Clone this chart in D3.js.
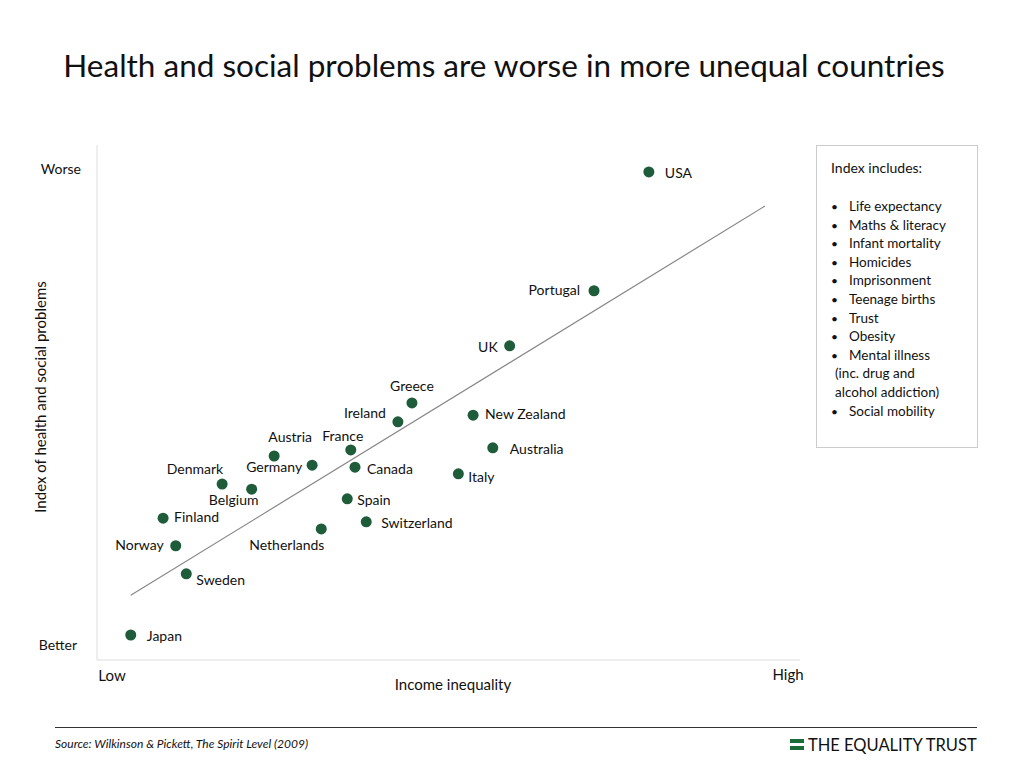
<!DOCTYPE html>
<html><head><meta charset="utf-8">
<script src="https://cdn.jsdelivr.net/npm/d3@7"></script>
<style>body{margin:0;background:#fff}text{font-family:Lato,"Open Sans",sans-serif;fill:#111}</style>
</head><body><svg id="viz" width="1024" height="768"></svg>
<script>
var countries = ['USA','Portugal','UK','Greece','Ireland','New Zealand','Australia','Italy','France','Canada','Austria','Germany','Denmark','Belgium','Spain','Switzerland','Netherlands','Finland','Norway','Sweden','Japan'];
var inequality = [78.5,70.7,58.7,44.8,42.8,53.5,56.3,51.4,36.1,36.7,25.2,30.6,17.8,22.0,35.6,38.3,31.9,9.4,11.2,12.7,4.8];
var problems = [95.7,72.4,61.6,50.4,46.7,48.0,41.6,36.5,41.2,37.8,40.0,38.2,34.5,33.5,31.6,27.1,25.7,27.8,22.4,16.9,4.9];
// label placement: [dx, dy, anchor]
var labelPos = [[16,6,'start'],[-14,4,'end'],[-12,6,'end'],[0,-12,'middle'],[-12,-4,'end'],[12,4,'start'],[17,6,'start'],[10,8,'start'],[-8,-9,'middle'],[12,7,'start'],[16,-14,'middle'],[-10,7,'end'],[1,-10,'end'],[-18,16,'middle'],[10,6,'start'],[15,6,'start'],[-72,21,'start'],[11,4,'start'],[-12,4,'end'],[10,11,'start'],[16,6,'start']];
var trendX = [4.8,95.0], trendY = [12.7,89.0];
var indexItems = ['Life expectancy','Maths & literacy','Infant mortality','Homicides','Imprisonment','Teenage births','Trust','Obesity','Mental illness','(inc. drug and','alcohol addiction)','Social mobility'];

var svg = d3.select('#viz');
var x = d3.scaleLinear().domain([0,100]).range([97,800]);
var y = d3.scaleLinear().domain([0,100]).range([660,150]);

svg.append('text').attr('x',504).attr('y',77).attr('text-anchor','middle').style('font-size','31.5px').text('Health and social problems are worse in more unequal countries');

// axes (plain lines)
svg.append('line').attr('x1',x(0)).attr('x2',x(0)).attr('y1',y(100)-5).attr('y2',y(0)).attr('stroke','#ddd');
svg.append('line').attr('x1',x(0)).attr('x2',x(100)).attr('y1',y(0)).attr('y2',y(0)).attr('stroke','#ddd');
svg.append('text').attr('x',81).attr('y',174).attr('text-anchor','end').style('font-size','14px').text('Worse');
svg.append('text').attr('x',77).attr('y',650).attr('text-anchor','end').style('font-size','14px').text('Better');
svg.append('text').attr('x',112).attr('y',681).attr('text-anchor','middle').style('font-size','15px').text('Low');
svg.append('text').attr('x',788).attr('y',680).attr('text-anchor','middle').style('font-size','15px').text('High');
svg.append('text').attr('x',453).attr('y',690).attr('text-anchor','middle').style('font-size','15px').text('Income inequality');
svg.append('text').attr('transform','translate(46,397) rotate(-90)').attr('text-anchor','middle').style('font-size','15px').text('Index of health and social problems');

svg.append('line').attr('x1',x(trendX[0])).attr('y1',y(trendY[0])).attr('x2',x(trendX[1])).attr('y2',y(trendY[1])).attr('stroke','#888').attr('stroke-width',1.2);

var g = svg.selectAll('g.pt').data(countries).enter().append('g').attr('class','pt')
  .attr('transform',function(d,i){return 'translate('+x(inequality[i])+','+y(problems[i])+')';});
g.append('circle').attr('r',5.5).attr('fill','#1e5c3a');
g.append('text').attr('x',function(d,i){return labelPos[i][0];}).attr('y',function(d,i){return labelPos[i][1];})
  .attr('text-anchor',function(d,i){return labelPos[i][2];}).style('font-size','14px').text(function(d){return d;});

// legend box
svg.append('rect').attr('x',816.5).attr('y',145.5).attr('width',161).attr('height',302).attr('fill','none').attr('stroke','#ccc');
svg.append('text').attr('x',831).attr('y',173).style('font-size','14px').text('Index includes:');
indexItems.forEach(function(t,i){
  var yy = 211 + i*18.6;
  var sub = t.charAt(0)==='(' || t.charAt(0)==='a';
  if(!sub) svg.append('text').attr('x',831).attr('y',yy).style('font-size','12px').text('•');
  svg.append('text').attr('x',sub?835:849).attr('y',yy).style('font-size','13.5px').text(t);
});

// footer
svg.append('line').attr('x1',55).attr('x2',977).attr('y1',727.5).attr('y2',727.5).attr('stroke','#333');
svg.append('text').attr('x',55).attr('y',748).style('font-size','12px').style('font-style','italic').text('Source: Wilkinson & Pickett, The Spirit Level (2009)');
svg.append('rect').attr('x',790).attr('y',739).attr('width',14).attr('height',4).attr('fill','#1e6b3a');
svg.append('rect').attr('x',790).attr('y',746).attr('width',14).attr('height',4).attr('fill','#1e6b3a');
svg.append('text').attr('x',808).attr('y',751).style('font-size','16.5px').text('THE EQUALITY TRUST');
</script></body></html>
